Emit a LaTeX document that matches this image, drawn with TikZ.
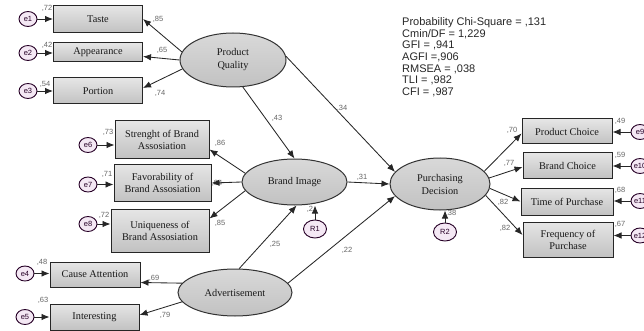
\documentclass[tikz,border=0pt]{standalone}
\usepackage{fontspec}
\setmainfont{Liberation Serif}
\newfontfamily\arialf{Liberation Sans}
\usetikzlibrary{arrows.meta,calc,shapes.geometric}
\begin{document}
\begin{tikzpicture}[x=1pt,y=-1pt,
  box/.style 2 args={draw=black!85, line width=1pt, top color=gray!20, bottom color=gray!48,
    minimum width=#1, minimum height=#2, inner sep=1pt, align=center,
    font=\fontsize{10.3}{12}\selectfont, text=black!90},
  lat/.style 2 args={ellipse, draw=black!80, line width=1pt, top color=gray!30, bottom color=gray!48,
    minimum width=#1, minimum height=#2, inner sep=0pt, align=center,
    font=\fontsize{10.3}{13}\selectfont, text=black!90},
  err/.style={ellipse, draw=black!70!violet, line width=0.9pt, fill=violet!9,
    minimum width=18pt, minimum height=15pt, inner sep=0pt,
    font=\arialf\fontsize{7.5}{8}\selectfont, text=black!70!violet},
  res/.style={err, minimum width=23pt, minimum height=18pt},
  arr/.style={-{Latex[length=8pt,width=6.5pt]}, line width=0.85pt, draw=black!85},
  lab/.style={font=\arialf\fontsize{7.5}{8}\selectfont, text=black!60, inner sep=0pt},
  fit/.style={anchor=north west, inner sep=0pt, align=left,
    font=\arialf\fontsize{11}{11.6}\selectfont, text=black!85}]
\useasboundingbox (0,0) rectangle (644,331);

% indicator boxes
\node[box={89pt}{27pt}] (taste) at (98,19) {Taste};
\node[box={89pt}{19pt}] (appear) at (98,52.5) {Appearance};
\node[box={89pt}{26pt}] (portion) at (98,91) {Portion};
\node[box={94pt}{37pt}] (streng) at (162,139.5) {Strenght of Brand\\Assosiation};
\node[box={97pt}{37pt}] (favor) at (162.5,183) {Favorability of\\Brand Assosiation};
\node[box={98pt}{43pt}] (uniq) at (160,230.5) {Uniqueness of\\Brand Assosiation};
\node[box={90pt}{25pt}] (cause) at (95,274.5) {Cause Attention};
\node[box={89pt}{26pt}] (inter) at (94.5,317) {Interesting};
\node[box={90pt}{25pt}] (pchoice) at (567,131.5) {Product Choice};
\node[box={89pt}{25pt}] (bchoice) at (567.5,165.5) {Brand Choice};
\node[box={92pt}{27pt}] (time) at (567,201.5) {Time of Purchase};
\node[box={90pt}{35pt}] (freq) at (568,239.5) {Frequency of\\Purchase};

% latent variables
\node[lat={106pt}{54pt}] (pq) at (233,60) {Product\\Quality};
\node[lat={105pt}{46pt}] (bi) at (294.5,182) {Brand Image};
\node[lat={100pt}{52pt}] (pd) at (440,184) {Purchasing\\Decision};
\node[lat={114pt}{47pt}] (adv) at (235,292.5) {Advertisement};

% error terms
\node[err] (e1) at (28,19) {e1};
\node[err] (e2) at (28,53) {e2};
\node[err] (e3) at (28,91) {e3};
\node[err] (e6) at (88,145) {e6};
\node[err] (e7) at (88,184.5) {e7};
\node[err] (e8) at (88,224) {e8};
\node[err] (e4) at (25,273.5) {e4};
\node[err] (e5) at (25,317) {e5};
\node[err] (e9) at (640,132) {e9};
\node[err] (e10) at (640,166) {e10};
\node[err] (e11) at (640,201) {e11};
\node[err] (e12) at (640,235.5) {e12};
\node[res] (r1) at (315,229) {R1};
\node[res] (r2) at (445,232) {R2};

% partially hidden label
\node[lab] (l84) at (217,183) {,84};

% error arrows
\draw[arr] (e1) -- (e1 -| taste.west);
\draw[arr] (e2) -- (e2 -| appear.west);
\draw[arr] (e3) -- (e3 -| portion.west);
\draw[arr] (e6) -- (e6 -| streng.west);
\draw[arr] (e7) -- (e7 -| favor.west);
\draw[arr] (e8) -- (e8 -| uniq.west);
\draw[arr] (e4) -- (e4 -| cause.west);
\draw[arr] (e5) -- (e5 -| inter.west);
\draw[arr] (e9) -- (e9 -| pchoice.east);
\draw[arr] (e10) -- (e10 -| bchoice.east);
\draw[arr] (e11) -- (e11 -| time.east);
\draw[arr] (e12) -- (e12 -| freq.east);
\draw[arr] (r1) -- (r1 |- bi.south);
\draw[arr] (r2) -- (r2 |- pd.south);

% measurement arrows
\draw[arr] (pq.171) -- (taste.east);
\draw[arr] (pq.west) -- ($(appear.east)+(0,4)$);
\draw[arr] (pq.190) -- ($(portion.east)+(0,-3)$);
\draw[arr] (bi.170) -- ($(streng.east)+(0,10)$);
\draw[arr] (bi.west) -- (favor.east);
\draw[arr] (bi.190) -- ($(uniq.east)+(0,-12)$);
\draw[arr] (adv.170) -- ($(cause.east)+(0,8)$);
\draw[arr] (adv.190) -- ($(inter.east)+(0,-2)$);
\draw[arr] (pd.16) -- ($(pchoice.west)+(0,2)$);
\draw[arr] (pd.7) -- ($(bchoice.west)+(0,1.5)$);
\draw[arr] (pd.-5) -- (time.west);
\draw[arr] (pd.-14) -- ($(freq.west)+(0,-4.5)$);

% structural arrows
\draw[arr] (pq.-70) -- (bi.north);
\draw[arr] (pq.4) -- (pd.165);
\draw[arr] (bi.east) -- (pd.west);
\draw[arr] (adv.80) -- (bi.-85);
\draw[arr] (adv.10) -- (pd.195);

% labels
\node[lab] at (47,8) {,72};
\node[lab] at (47,45) {,42};
\node[lab] at (45,84) {,54};
\node[lab] at (158,19) {,85};
\node[lab] at (162,50) {,65};
\node[lab] at (160,93) {,74};
\node[lab] at (277,118) {,43};
\node[lab] at (342,108) {,34};
\node[lab] at (108,132) {,73};
\node[lab] at (107,174) {,71};
\node[lab] at (104,215) {,72};
\node[lab] at (220,143) {,86};
\node[lab] at (220,223) {,85};
\node[lab] at (362,177) {,31};
\node[lab] at (310,209) {,2};
\node[lab] at (451,213) {,38};
\node[lab] at (275,244) {,25};
\node[lab] at (347,250) {,22};
\node[lab] at (42,262) {,48};
\node[lab] at (43,300) {,63};
\node[lab] at (154,278) {,69};
\node[lab] at (165,315) {,79};
\node[lab] at (512,130) {,70};
\node[lab] at (509,163) {,77};
\node[lab] at (503,202) {,82};
\node[lab] at (505,228) {,82};
\node[lab] at (620,121) {,49};
\node[lab] at (620,155) {,59};
\node[lab] at (620,190) {,68};
\node[lab] at (620,224) {,67};

% fit indices
\node[fit] (fitidx) at (402,17.5) {Probability Chi-Square = ,131\\Cmin/DF = 1,229\\GFI = ,941\\AGFI =,906\\RMSEA = ,038\\TLI = ,982\\CFI = ,987};
\end{tikzpicture}
\end{document}
